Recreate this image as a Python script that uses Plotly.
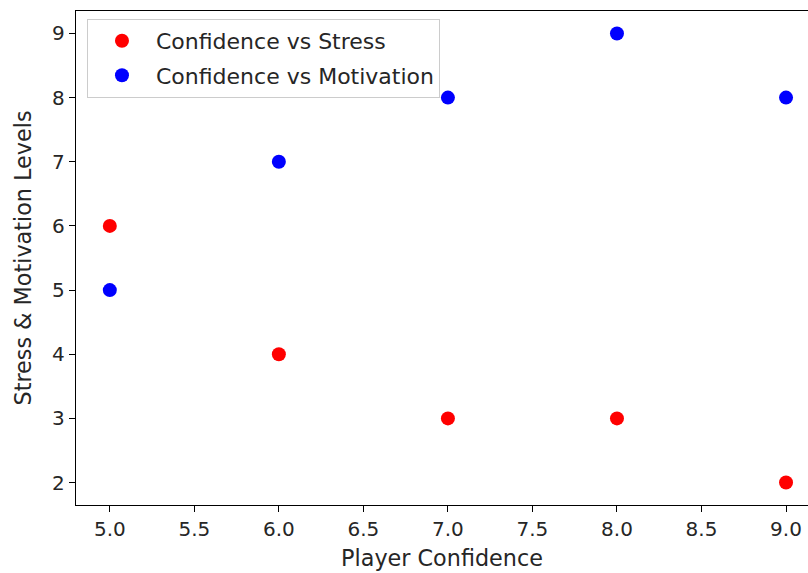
import plotly.graph_objects as go

confidence = [5, 6, 7, 8, 9]
stress = [6, 4, 3, 3, 2]
motivation = [5, 7, 8, 9, 8]

x_ticks = [5.0, 5.5, 6.0, 6.5, 7.0, 7.5, 8.0, 8.5, 9.0]
y_ticks = [2, 3, 4, 5, 6, 7, 8, 9]

fam = "DejaVu Sans"
txt = "#262626"

fig = go.Figure()
fig.add_trace(go.Scatter(x=confidence, y=stress, mode="markers", name="Confidence vs Stress",
                         legendgroup="a", marker=dict(color="red", size=14)))
fig.add_trace(go.Scatter(x=confidence, y=motivation, mode="markers", name="Confidence vs Motivation",
                         legendgroup="b", marker=dict(color="blue", size=14)))

fig.update_layout(
    width=808, height=573,
    margin=dict(l=76, r=0, t=10.5, b=68),
    paper_bgcolor="white", plot_bgcolor="white",
    font=dict(family=fam, size=20, color=txt),
    showlegend=True,
    legend=dict(x=0.015, y=0.984, xanchor="left", yanchor="top",
                bgcolor="rgba(255,255,255,0.8)", bordercolor="#cccccc", borderwidth=1,
                itemwidth=58, tracegroupgap=3, traceorder="grouped",
                font=dict(family=fam, size=22, color=txt)),
    xaxis=dict(range=[4.8, 9.13], tickvals=x_ticks, ticktext=[f"{v:.1f}" for v in x_ticks],
               showgrid=False, zeroline=False, showline=True, linecolor="black", linewidth=1.3,
               mirror=True, ticks="outside", ticklen=6, tickcolor="black",
               title=dict(text="Player Confidence", standoff=10,
                          font=dict(family=fam, size=22.3, color=txt)),
               tickfont=dict(family=fam, size=20, color=txt)),
    yaxis=dict(range=[1.65, 9.35], tickvals=y_ticks, ticktext=[str(v) for v in y_ticks],
               showgrid=False, zeroline=False, showline=True, linecolor="black", linewidth=1.3,
               mirror=False, ticks="outside", ticklen=6, tickcolor="black",
               title=dict(text="Stress & Motivation Levels", standoff=14,
                          font=dict(family=fam, size=22.3, color=txt)),
               tickfont=dict(family=fam, size=20, color=txt)),
)

fig.write_html("out.html")
